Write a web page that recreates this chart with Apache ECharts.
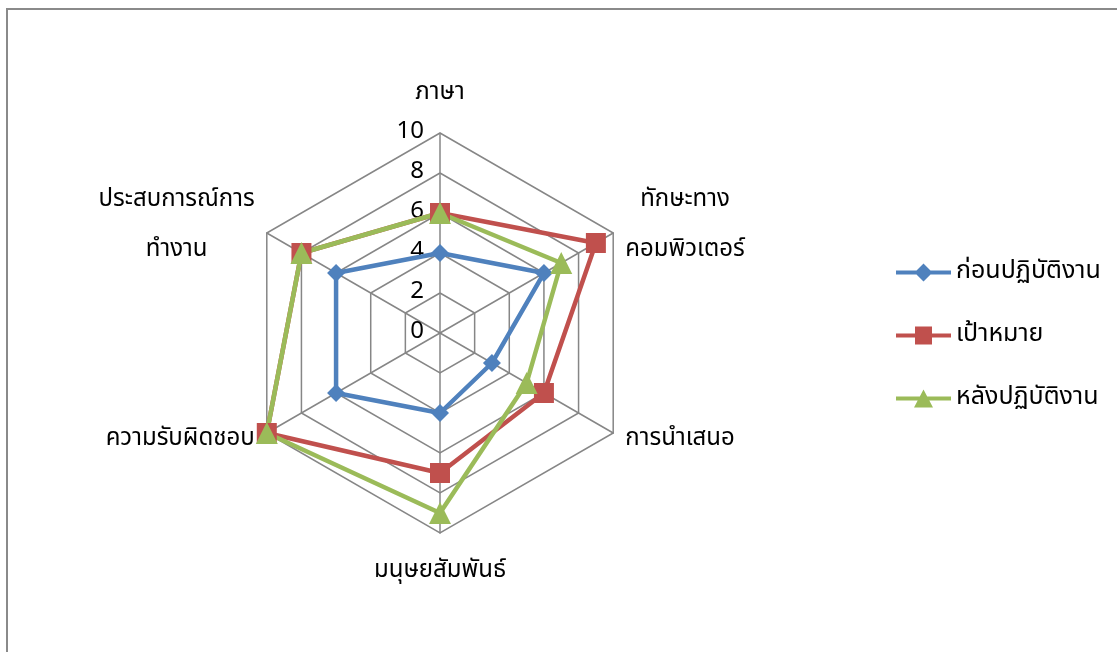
<!DOCTYPE html>
<html>
<head>
<meta charset="utf-8">
<script src="https://cdn.jsdelivr.net/npm/echarts@6/dist/echarts.min.js"></script>
<style>
html,body{margin:0;padding:0;background:#fff;overflow:hidden;}
#frame{position:absolute;left:6px;top:8px;width:1200px;height:700px;border-left:2px solid #8a8a8a;border-top:2px solid #8a8a8a;}
#chart{position:absolute;left:0;top:0;width:1117px;height:652px;}
</style>
</head>
<body>
<div id="frame"></div>
<div id="chart"></div>
<script>
// Categories listed clockwise from the top, as in the reference
var indicators = ['ภาษา', 'ทักษะทาง\nคอมพิวเตอร์', 'การนำเสนอ', 'มนุษยสัมพันธ์', 'ความรับผิดชอบ', 'ประสบการณ์การ\nทำงาน'];
var seriesNames = ['ก่อนปฏิบัติงาน', 'เป้าหมาย', 'หลังปฏิบัติงาน'];
var before = [4, 6, 3, 4, 6, 6];
var target = [6, 9, 6, 7, 10, 8];
var after = [6, 7, 5, 9, 10, 8];
var axisMax = 10;

var FONT = '"Noto Sans Thai", "Noto Sans", Tahoma, sans-serif';
var colors = ['#4F81BD', '#C0504D', '#9BBB59'];
var icons = [
  'path://M0,7 L55,7 L55,11 L0,11 Z M27.5,0 L36.5,9 L27.5,18 L18.5,9 Z',
  'path://M0,7 L55,7 L55,11 L0,11 Z M19,0 L36,0 L36,18 L19,18 Z',
  'path://M0,7 L55,7 L55,11 L0,11 Z M27.5,0 L37,18 L18,18 Z'
];
var symbols = ['diamond', 'rect', 'triangle'];
var symbolSizes = [18, 20, 22];
var dataSets = [before, target, after];

// ECharts radar runs counter-clockwise; reorder so categories run clockwise.
function toCCW(arr) {
  var out = [arr[0]];
  for (var i = arr.length - 1; i >= 1; i--) out.push(arr[i]);
  return out;
}

var chart = echarts.init(document.getElementById('chart'));
var option = {
  backgroundColor: 'transparent',
  animation: false,
  legend: {
    orient: 'vertical',
    left: 891,
    top: 255,
    itemWidth: 55,
    itemHeight: 18,
    itemGap: 38,
    textStyle: { fontFamily: FONT, fontSize: 25, color: '#000' },
    data: seriesNames.map(function (n, i) { return { name: n, icon: icons[i], itemStyle: { color: colors[i] } }; })
  },
  radar: {
    center: [440, 333],
    radius: 200,
    startAngle: 90,
    shape: 'polygon',
    splitNumber: 5,
    axisName: {
      color: '#000',
      fontFamily: FONT,
      fontSize: 24,
      lineHeight: 50,
      formatter: function (name) {
        return name.split('\n').map(function (l) { return '{c|' + l + '}'; }).join('\n');
      },
      rich: {
        c: { align: 'center', fontFamily: FONT, fontSize: 24, lineHeight: 50, color: '#000' }
      }
    },
    nameGap: 14,
    splitLine: { lineStyle: { color: '#868686', width: 1.5 } },
    splitArea: { show: false },
    axisLine: { lineStyle: { color: '#868686', width: 1.5 } },
    axisLabel: { show: false },
    indicator: toCCW(indicators).map(function (n, i) {
      var ind = { name: n, max: axisMax, min: 0 };
      if (i === 0) {
        ind.axisLabel = { show: true, color: '#000', fontFamily: FONT, fontSize: 24, margin: 16 };
      }
      return ind;
    })
  },
  series: [{
    type: 'radar',
    data: dataSets.map(function (d, i) {
      return {
        name: seriesNames[i],
        value: toCCW(d),
        symbol: symbols[i],
        symbolSize: symbolSizes[i],
        lineStyle: { color: colors[i], width: 4.5 },
        itemStyle: { color: colors[i] }
      };
    })
  }]
};
chart.setOption(option);
</script>
</body>
</html>
